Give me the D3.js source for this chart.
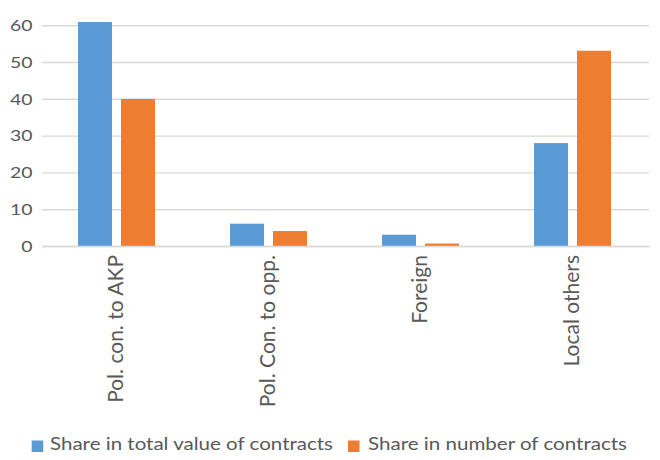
<!DOCTYPE html>
<html>
<head>
<meta charset="utf-8">
<script src="https://cdn.jsdelivr.net/npm/d3@7"></script>
<style>
  html, body { margin: 0; padding: 0; background: #ffffff; }
  svg { display: block; }
  text { font-family: Lato, "Open Sans", sans-serif; fill: #595959; }
</style>
</head>
<body>
<svg id="chart" width="660" height="460"></svg>
<script>
const categories = ["Pol. con. to AKP", "Pol. Con. to opp.", "Foreign", "Local others"];
const seriesNames = ["Share in total value of contracts", "Share in number of contracts"];
const valueShare = [61, 6.2, 3.2, 28.1];
const numberShare = [40.1, 4.2, 0.8, 53.2];
const yTicks = [0, 10, 20, 30, 40, 50, 60];
const colors = ["#5b9bd5", "#ed7d31"];

const svg = d3.select("#chart");
const x0 = d3.scaleBand().domain(categories).range([40.5, 648.5]).paddingInner(0).paddingOuter(0);
const x1 = d3.scaleBand().domain(seriesNames).range([37.5, 114.5]).paddingInner(9 / 43).paddingOuter(0);
const y = d3.scaleLinear().domain([0, 60]).range([246.5, 25.7]);

// gridlines
svg.append("g").selectAll("line").data(yTicks).join("line")
  .attr("x1", 42).attr("x2", 649)
  .attr("y1", d => y(d)).attr("y2", d => y(d))
  .attr("stroke", "#d9d9d9").attr("stroke-width", 1.4);

// y axis labels
const yAxis = d3.axisLeft(y).tickValues(yTicks).tickSize(0).tickPadding(0);
const gy = svg.append("g").attr("transform", "translate(32.5,0)").call(yAxis);
gy.select(".domain").remove();
gy.selectAll("text")
  .style("font-family", "Lato, sans-serif")
  .attr("font-size", 15).attr("fill", "#595959")
  .attr("textLength", d => String(d).length * 11.3)
  .attr("lengthAdjust", "spacingAndGlyphs");

// bars
const rows = categories.map((c, i) => ({ cat: c, vals: [valueShare[i], numberShare[i]] }));
const groups = svg.append("g").selectAll("g").data(rows).join("g")
  .attr("transform", d => `translate(${x0(d.cat)},0)`);
groups.selectAll("rect").data(d => d.vals.map((v, j) => ({ name: seriesNames[j], v, j })))
  .join("rect")
  .attr("x", d => x1(d.name))
  .attr("width", x1.bandwidth())
  .attr("y", d => y(d.v))
  .attr("height", d => y(0) - y(d.v))
  .attr("fill", d => colors[d.j]);

// baseline
svg.append("line").attr("x1", 42).attr("x2", 650).attr("y1", y(0)).attr("y2", y(0))
  .attr("stroke", "#d9d9d9").attr("stroke-width", 1.4);

// category labels (rotated)
svg.append("g").selectAll("text").data(categories).join("text")
  .attr("transform", d => `translate(${x0(d) + x0.bandwidth() / 2 - 1},255) rotate(-90)`)
  .attr("text-anchor", "end")
  .attr("dy", "0.36em")
  .attr("font-size", 21)
  .text(d => d);

// legend
const legendPos = [{ sx: 31.7, tx: 50, w: 283 }, { sx: 348, tx: 368, w: 259 }];
const lg = svg.append("g").selectAll("g").data(seriesNames).join("g");
lg.append("rect")
  .attr("x", (d, i) => legendPos[i].sx).attr("y", 440.5)
  .attr("width", 11.5).attr("height", 11.5)
  .attr("fill", (d, i) => colors[i]);
lg.append("text")
  .attr("x", (d, i) => legendPos[i].tx).attr("y", 450.3)
  .attr("font-size", 18)
  .attr("textLength", (d, i) => legendPos[i].w)
  .attr("lengthAdjust", "spacingAndGlyphs")
  .text(d => d);
</script>
</body>
</html>
